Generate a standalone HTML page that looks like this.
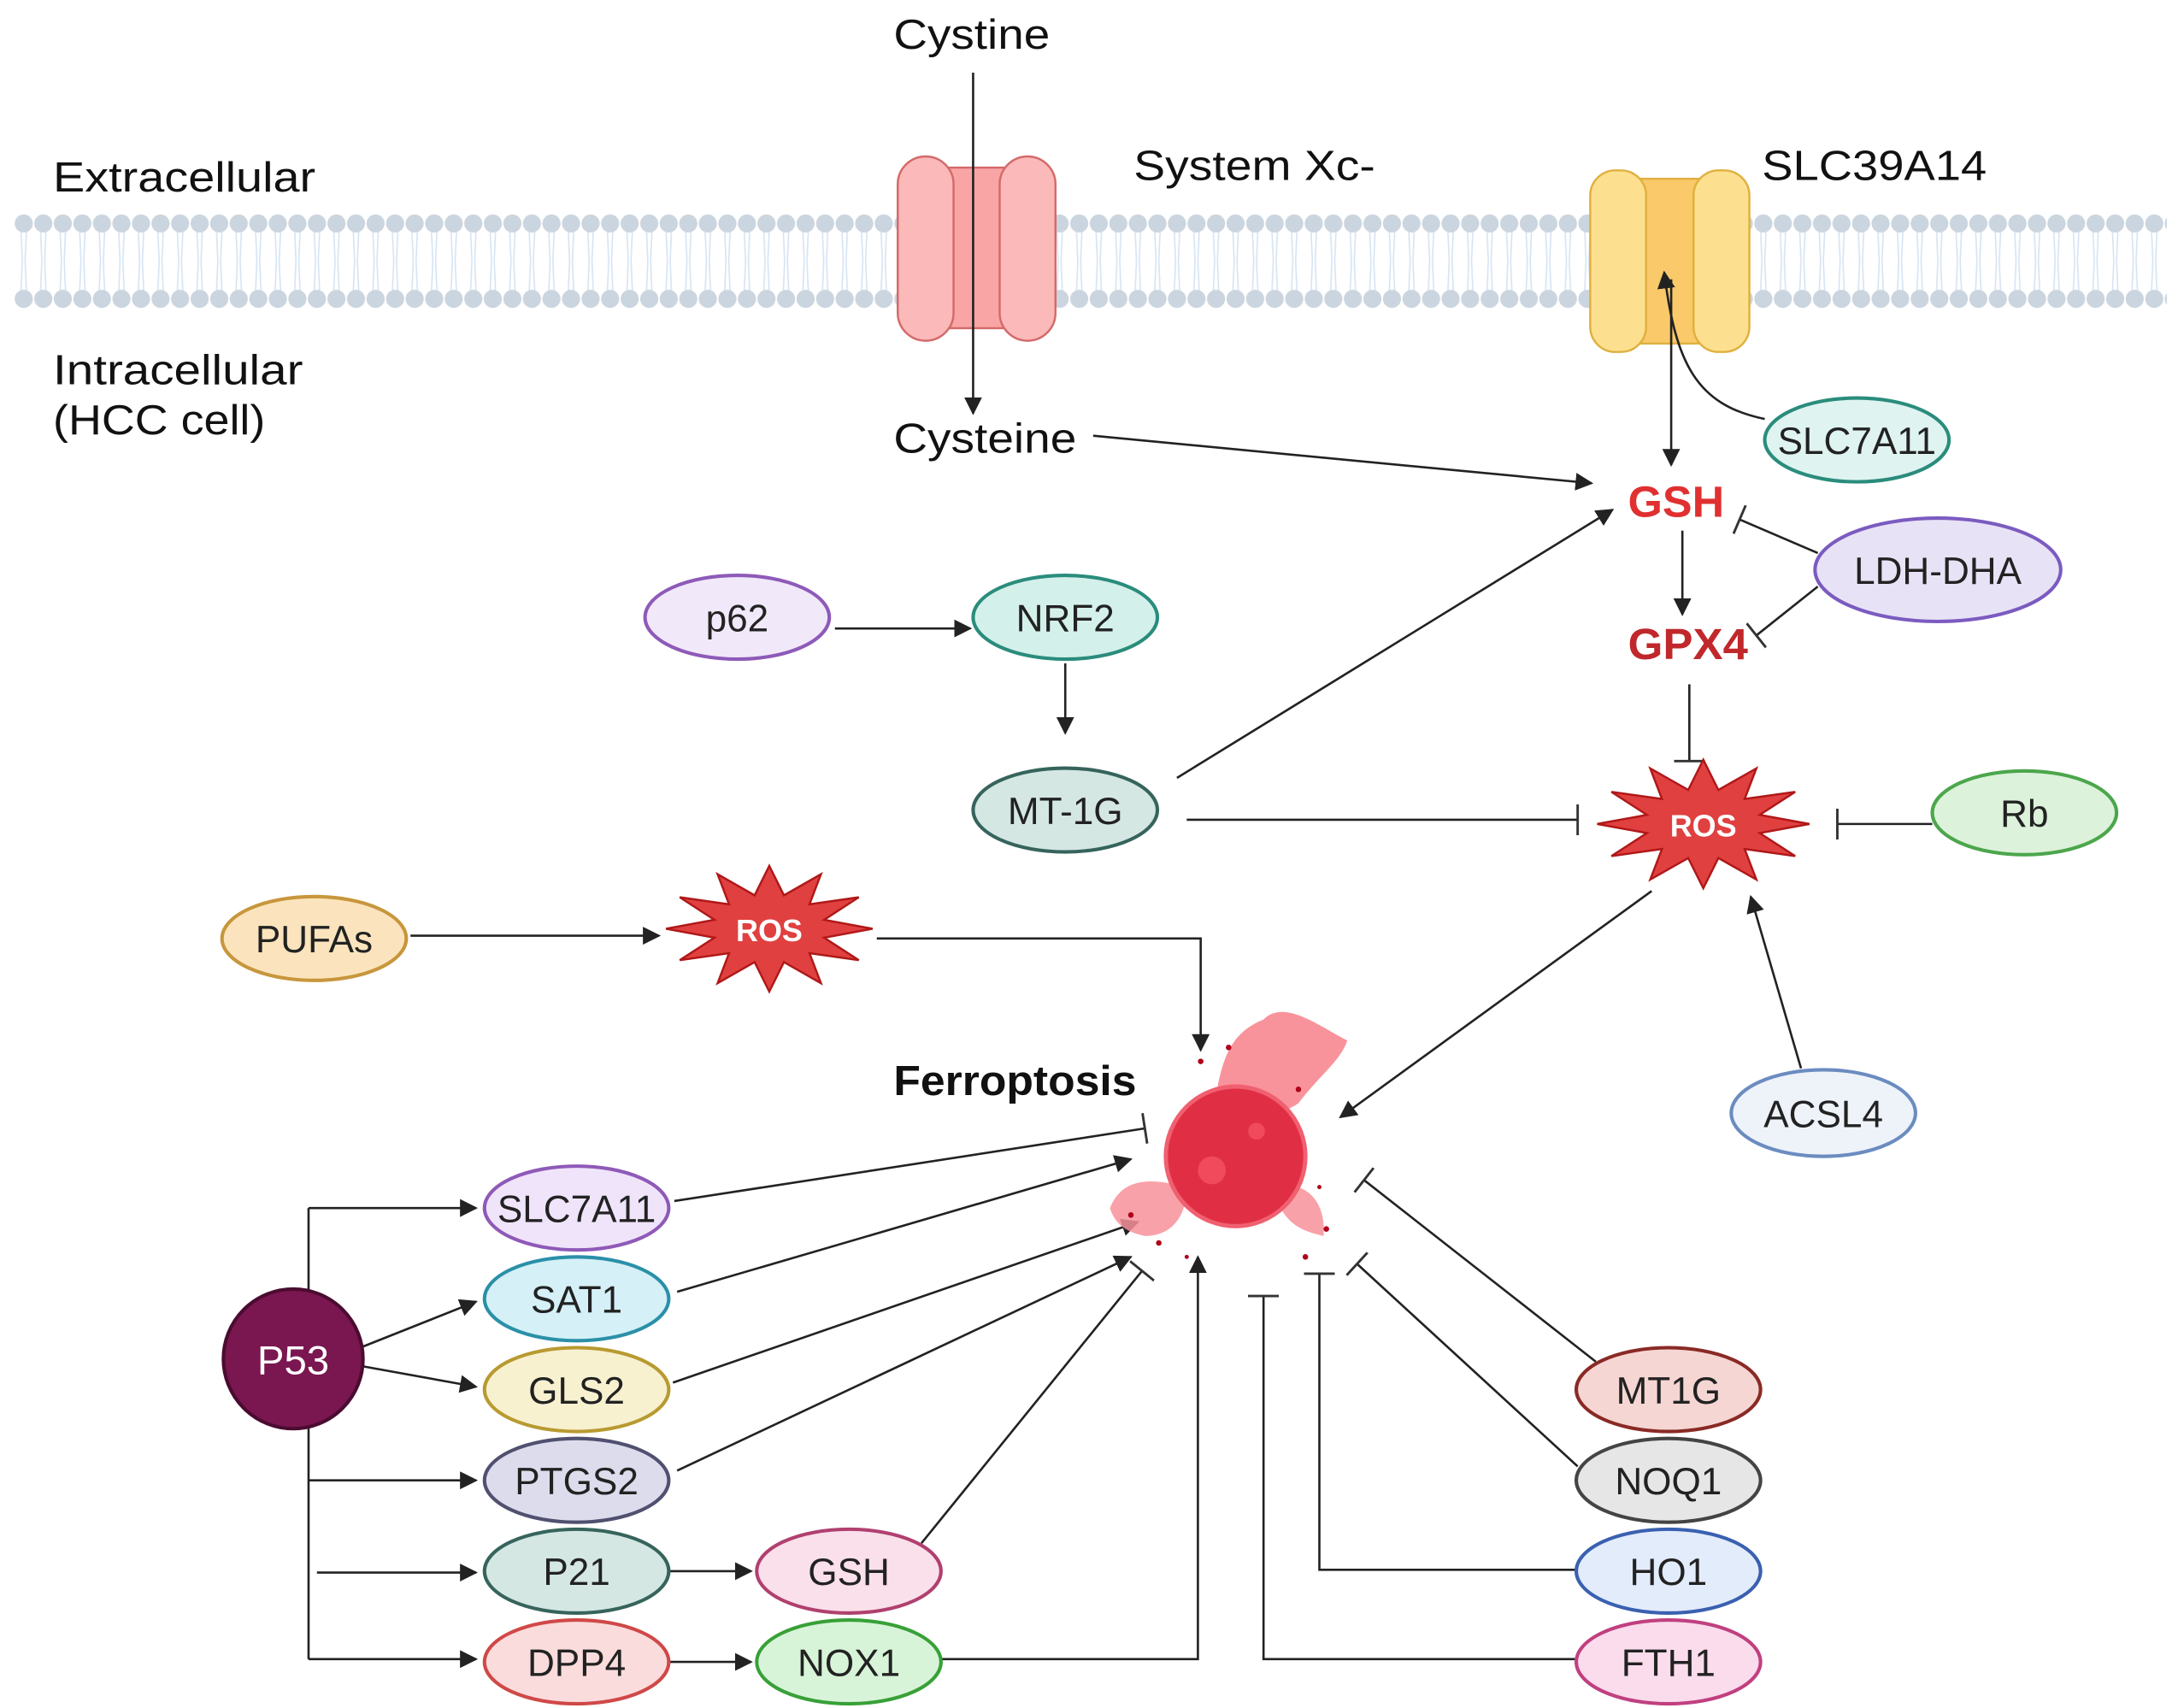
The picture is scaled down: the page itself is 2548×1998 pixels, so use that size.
<!DOCTYPE html>
<html><head><meta charset="utf-8"><style>
html,body{margin:0;padding:0;background:#fff}
svg{display:block}
text{font-family:"Liberation Sans",sans-serif}
</style></head><body>
<svg width="2548" height="1998" viewBox="0 0 1560 1223" preserveAspectRatio="none" xmlns="http://www.w3.org/2000/svg">
<defs>
<marker id="ar" viewBox="0 0 10 10" refX="9" refY="5" markerWidth="8" markerHeight="8" orient="auto-start-reverse"><path d="M0,0L10,5L0,10z" fill="#222"/></marker>
<marker id="tb" viewBox="0 0 10 10" refX="5" refY="5" markerWidth="22" markerHeight="22" orient="auto" markerUnits="userSpaceOnUse"><path d="M5,-1L5,11" stroke="#333" stroke-width="0.8"/></marker>
<pattern id="mem" x="10" y="152" width="14" height="70" patternUnits="userSpaceOnUse">
<path d="M5,12 L6,35 L5,58 M9,12 L8,35 L9,58" stroke="#d6e4f2" stroke-width="1" fill="none"/>
<circle cx="7" cy="8" r="6.5" fill="#cbd5df"/><circle cx="7" cy="62" r="6.5" fill="#cbd5df"/>
</pattern>
</defs>
<rect x="10" y="152" width="1542" height="70" fill="url(#mem)"/>

<g stroke="#d46a6a" stroke-width="1.5">
<rect x="672" y="120" width="54" height="115" fill="#f9a5a5"/>
<rect x="643" y="112" width="40" height="132" rx="20" fill="#fbb9b9"/>
<rect x="716" y="112" width="40" height="132" rx="20" fill="#fbb9b9"/>
</g>
<g stroke="#e0b040" stroke-width="1.5">
<rect x="1168" y="128" width="60" height="118" fill="#f9c96a"/>
<rect x="1139" y="122" width="40" height="130" rx="18" fill="#fde08f"/>
<rect x="1213" y="122" width="40" height="130" rx="18" fill="#fde08f"/>
</g>

<g font-size="30" fill="#111">
<text x="640" y="35" textLength="112" lengthAdjust="spacingAndGlyphs">Cystine</text>
<text x="38" y="137" textLength="188" lengthAdjust="spacingAndGlyphs">Extracellular</text>
<text x="38" y="275" textLength="179" lengthAdjust="spacingAndGlyphs">Intracellular</text>
<text x="38" y="311" textLength="152" lengthAdjust="spacingAndGlyphs">(HCC cell)</text>
<text x="812" y="129" textLength="173" lengthAdjust="spacingAndGlyphs">System Xc-</text>
<text x="1262" y="129" textLength="161" lengthAdjust="spacingAndGlyphs">SLC39A14</text>
<text x="640" y="324" textLength="131" lengthAdjust="spacingAndGlyphs">Cysteine</text>
</g>
<text x="1166" y="370" font-size="31" font-weight="bold" fill="#e03030" textLength="69" lengthAdjust="spacingAndGlyphs">GSH</text>
<text x="1166" y="472" font-size="31" font-weight="bold" fill="#c0282b" textLength="86" lengthAdjust="spacingAndGlyphs">GPX4</text>
<text x="640" y="784" font-size="30" font-weight="bold" fill="#111" textLength="174" lengthAdjust="spacingAndGlyphs">Ferroptosis</text>

<g stroke="#222" stroke-width="1.6" fill="none">
<line x1="697" y1="52" x2="697" y2="296" marker-end="url(#ar)"/>
<line x1="783" y1="312" x2="1140" y2="346" marker-end="url(#ar)"/>
<line x1="1197" y1="200" x2="1197" y2="333" marker-end="url(#ar)"/>
<path d="M1264,300 C1215,290 1200,260 1192,195" marker-end="url(#ar)"/>
<line x1="1302" y1="396" x2="1246" y2="372" marker-end="url(#tb)"/>
<line x1="1302" y1="420" x2="1258" y2="455" marker-end="url(#tb)"/>
<line x1="1205" y1="380" x2="1205" y2="440" marker-end="url(#ar)"/>
<line x1="1210" y1="490" x2="1210" y2="545" marker-end="url(#tb)"/>
<line x1="1384" y1="590" x2="1316" y2="590" marker-end="url(#tb)"/>
<line x1="850" y1="587" x2="1130" y2="587" marker-end="url(#tb)"/>
<line x1="843" y1="557" x2="1155" y2="365" marker-end="url(#ar)"/>
<line x1="598" y1="450" x2="695" y2="450" marker-end="url(#ar)"/>
<line x1="763" y1="475" x2="763" y2="525" marker-end="url(#ar)"/>
<line x1="294" y1="670" x2="472" y2="670" marker-end="url(#ar)"/>
<path d="M628,672 L860,672 L860,752" marker-end="url(#ar)"/>
<line x1="1183" y1="638" x2="960" y2="800" marker-end="url(#ar)"/>
<line x1="1290" y1="765" x2="1254" y2="642" marker-end="url(#ar)"/>
<line x1="483" y1="860" x2="820" y2="808" marker-end="url(#tb)"/>
<line x1="485" y1="925" x2="810" y2="830" marker-end="url(#ar)"/>
<line x1="482" y1="990" x2="815" y2="875" marker-end="url(#ar)"/>
<line x1="485" y1="1053" x2="810" y2="900" marker-end="url(#ar)"/>
<line x1="660" y1="1105" x2="818" y2="910" marker-end="url(#tb)"/>
<path d="M675,1188 L858,1188 L858,900" marker-end="url(#ar)"/>
<line x1="1143" y1="975" x2="977" y2="845" marker-end="url(#tb)"/>
<line x1="1130" y1="1050" x2="972" y2="905" marker-end="url(#tb)"/>
<path d="M1128,1124 L945,1124 L945,912" marker-end="url(#tb)"/>
<path d="M1128,1188 L905,1188 L905,928" marker-end="url(#tb)"/>
<line x1="221" y1="865" x2="221" y2="1188"/>
<line x1="221" y1="865" x2="341" y2="865" marker-end="url(#ar)"/>
<line x1="258" y1="965" x2="341" y2="932" marker-end="url(#ar)"/>
<line x1="258" y1="978" x2="341" y2="993" marker-end="url(#ar)"/>
<line x1="221" y1="1060" x2="341" y2="1060" marker-end="url(#ar)"/>
<line x1="227" y1="1126" x2="341" y2="1126" marker-end="url(#ar)"/>
<line x1="221" y1="1188" x2="341" y2="1188" marker-end="url(#ar)"/>
<line x1="480" y1="1125" x2="538" y2="1125" marker-end="url(#ar)"/>
<line x1="480" y1="1190" x2="538" y2="1190" marker-end="url(#ar)"/>
</g>

<polygon points="1296,590 1260.4,596.5 1285.8,613 1249.6,607.9 1258,629.8 1230.8,614.4 1220,636 1209.2,614.4 1182,629.8 1190.4,607.9 1154.2,613 1179.6,596.5 1144,590 1179.6,583.5 1154.2,567 1190.4,572.1 1182,550.2 1209.2,565.6 1220,544 1230.8,565.6 1258,550.2 1249.6,572.1 1285.8,567 1260.4,583.5" fill="#e04040" stroke="#b01818" stroke-width="1.5"/>
<text x="1220" y="599" font-size="22" font-weight="bold" fill="#fff" text-anchor="middle">ROS</text>
<polygon points="625,665 590.3,671.4 615.1,687.5 579.8,682.5 588,704 561.5,688.9 551,710 540.5,688.9 514,704 522.2,682.5 486.9,687.5 511.7,671.4 477,665 511.7,658.6 486.9,642.5 522.2,647.5 514,626 540.5,641.1 551,620 561.5,641.1 588,626 579.8,647.5 615.1,642.5 590.3,658.6" fill="#e04040" stroke="#b01818" stroke-width="1.5"/>
<text x="551" y="674" font-size="22" font-weight="bold" fill="#fff" text-anchor="middle">ROS</text>

<g>
<path d="M870,790 C875,760 880,740 905,730 C920,715 945,735 965,745 C960,760 945,770 930,790 C915,800 890,805 870,790 Z" fill="#f8808a" opacity="0.85"/>
<path d="M795,865 C805,840 830,845 850,850 C850,870 840,885 820,885 C805,882 798,875 795,865 Z" fill="#f8909a" opacity="0.85"/>
<path d="M915,850 C935,845 950,860 948,885 C935,882 922,878 915,860 Z" fill="#f8909a" opacity="0.85"/>
<circle cx="885" cy="828" r="50" fill="#e02f45" stroke="#f06070" stroke-width="3"/>
<circle cx="868" cy="838" r="10" fill="#f04a5c"/>
<circle cx="900" cy="810" r="6" fill="#f04a5c"/>
<g fill="#b00018"><circle cx="860" cy="760" r="2"/><circle cx="930" cy="780" r="2"/><circle cx="830" cy="890" r="2"/><circle cx="950" cy="880" r="2"/><circle cx="850" cy="900" r="1.5"/><circle cx="935" cy="900" r="2"/><circle cx="810" cy="870" r="2"/><circle cx="880" cy="750" r="2"/><circle cx="945" cy="850" r="1.5"/></g>
</g>

<g font-size="27" fill="#222" text-anchor="middle" stroke-width="2.5">
<ellipse cx="1330" cy="315" rx="66" ry="30" fill="#dff3f0" stroke="#2a8c7c"/><text x="1330" y="325" stroke="none">SLC7A11</text>
<ellipse cx="1388" cy="408" rx="88" ry="37" fill="#e8e2f6" stroke="#7b5bc0"/><text x="1388" y="418" stroke="none">LDH-DHA</text>
<ellipse cx="1450" cy="582" rx="66" ry="30" fill="#dcf2da" stroke="#4ca64c"/><text x="1450" y="592" stroke="none">Rb</text>
<ellipse cx="763" cy="580" rx="66" ry="30" fill="#d4e7e3" stroke="#36645c"/><text x="763" y="590" stroke="none">MT-1G</text>
<ellipse cx="528" cy="442" rx="66" ry="30" fill="#f1e8fa" stroke="#8e5ab8"/><text x="528" y="452" stroke="none">p62</text>
<ellipse cx="763" cy="442" rx="66" ry="30" fill="#d4f0ea" stroke="#2a8c7c"/><text x="763" y="452" stroke="none">NRF2</text>
<ellipse cx="225" cy="672" rx="66" ry="30" fill="#fbe4bd" stroke="#c8963c"/><text x="225" y="682" stroke="none">PUFAs</text>
<ellipse cx="1306" cy="797" rx="66" ry="31" fill="#eef3fa" stroke="#6b8cc0"/><text x="1306" y="807" stroke="none">ACSL4</text>
<ellipse cx="413" cy="865" rx="66" ry="30" fill="#f0e4fa" stroke="#8e5ab8"/><text x="413" y="875" stroke="none">SLC7A11</text>
<ellipse cx="413" cy="930" rx="66" ry="30" fill="#d5f0f7" stroke="#2a90a8"/><text x="413" y="940" stroke="none">SAT1</text>
<ellipse cx="413" cy="995" rx="66" ry="30" fill="#f7f1d0" stroke="#b89a30"/><text x="413" y="1005" stroke="none">GLS2</text>
<ellipse cx="413" cy="1060" rx="66" ry="30" fill="#dcdcec" stroke="#505070"/><text x="413" y="1070" stroke="none">PTGS2</text>
<ellipse cx="413" cy="1125" rx="66" ry="30" fill="#d4e7e3" stroke="#36645c"/><text x="413" y="1135" stroke="none">P21</text>
<ellipse cx="413" cy="1190" rx="66" ry="30" fill="#fbdcdc" stroke="#d04848"/><text x="413" y="1200" stroke="none">DPP4</text>
<ellipse cx="608" cy="1125" rx="66" ry="30" fill="#fae0ea" stroke="#b04070"/><text x="608" y="1135" stroke="none">GSH</text>
<ellipse cx="608" cy="1190" rx="66" ry="30" fill="#d8f4d8" stroke="#38a038"/><text x="608" y="1200" stroke="none">NOX1</text>
<ellipse cx="1195" cy="995" rx="66" ry="30" fill="#f5d6d3" stroke="#8a2a25"/><text x="1195" y="1005" stroke="none">MT1G</text>
<ellipse cx="1195" cy="1060" rx="66" ry="30" fill="#e6e6e6" stroke="#444"/><text x="1195" y="1070" stroke="none">NOQ1</text>
<ellipse cx="1195" cy="1125" rx="66" ry="30" fill="#e3ecfb" stroke="#3a60b0"/><text x="1195" y="1135" stroke="none">HO1</text>
<ellipse cx="1195" cy="1190" rx="66" ry="30" fill="#fbdcec" stroke="#c04080"/><text x="1195" y="1200" stroke="none">FTH1</text>
<circle cx="210" cy="973" r="50" fill="#7a1650" stroke="#4a0c30"/><text x="210" y="984" fill="#fff" stroke="none" font-size="29">P53</text>
</g>
</svg>
</body></html>
